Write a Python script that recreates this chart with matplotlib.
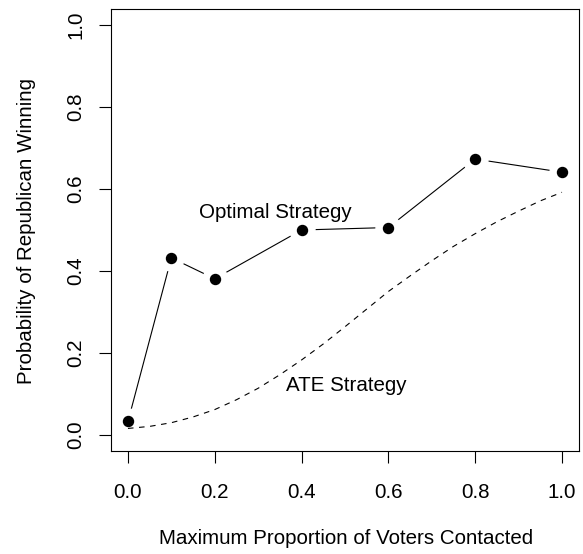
import matplotlib
matplotlib.use('Agg')
import matplotlib.pyplot as plt

plt.rcParams['font.family'] = ['Liberation Sans', 'DejaVu Sans']

# optimal strategy points
prop = [0.0, 0.1, 0.2, 0.4, 0.6, 0.8, 1.0]
optimal = [0.033, 0.432, 0.381, 0.500, 0.506, 0.673, 0.641]

# ATE strategy curve (read every 0.05)
ate_x = [0.0, 0.05, 0.1, 0.15, 0.2, 0.25, 0.3, 0.35, 0.4, 0.45, 0.5,
         0.55, 0.6, 0.65, 0.7, 0.75, 0.8, 0.85, 0.9, 0.95, 1.0]
ate_y = [0.016, 0.021, 0.030, 0.044, 0.062, 0.086, 0.114, 0.147, 0.183, 0.222, 0.264,
         0.307, 0.350, 0.388, 0.425, 0.460, 0.491, 0.520, 0.546, 0.571, 0.592]

xticks = [0.0, 0.2, 0.4, 0.6, 0.8, 1.0]
yticks = [0.0, 0.2, 0.4, 0.6, 0.8, 1.0]
fs = 14.8

fig = plt.figure(figsize=(5.83, 5.54), dpi=100)
ax = fig.add_axes([0.1897, 0.1852, 0.804, 0.7993])

# type="b" look: line, white gap around points, then black dots
ax.plot(prop, optimal, color='black', lw=0.8, zorder=2)
ax.plot(prop, optimal, 'o', color='white', ms=18, zorder=3)
ax.plot(prop, optimal, 'o', color='black', ms=7.2, zorder=5)
ax.plot(ate_x, ate_y, color='black', lw=0.8, dashes=(5, 5), zorder=4)

ax.text(0.34, 0.543, 'Optimal Strategy', ha='center', va='center', fontsize=fs)
ax.text(0.504, 0.12, 'ATE Strategy', ha='center', va='center', fontsize=fs)

ax.set_xlim(-0.04, 1.04)
ax.set_ylim(-0.04, 1.04)
ax.set_xticks(xticks)
ax.set_xticklabels(['%.1f' % v for v in xticks])
ax.set_yticks(yticks)
ax.set_yticklabels(['%.1f' % v for v in yticks], rotation=90, va='center')
ax.tick_params(length=8.6, width=0.8, labelsize=fs)
ax.tick_params(axis='x', pad=14.5)
ax.tick_params(axis='y', pad=9.5)
for s in ax.spines.values():
    s.set_linewidth(0.8)

fig.text(346 / 583, 1 - 539 / 554, 'Maximum Proportion of Voters Contacted',
         ha='center', va='center', fontsize=fs)
fig.text(27 / 583, 1 - 231 / 554, 'Probability of Republican Winning',
         ha='center', va='center', rotation=90, fontsize=fs)

plt.savefig('out.png')
